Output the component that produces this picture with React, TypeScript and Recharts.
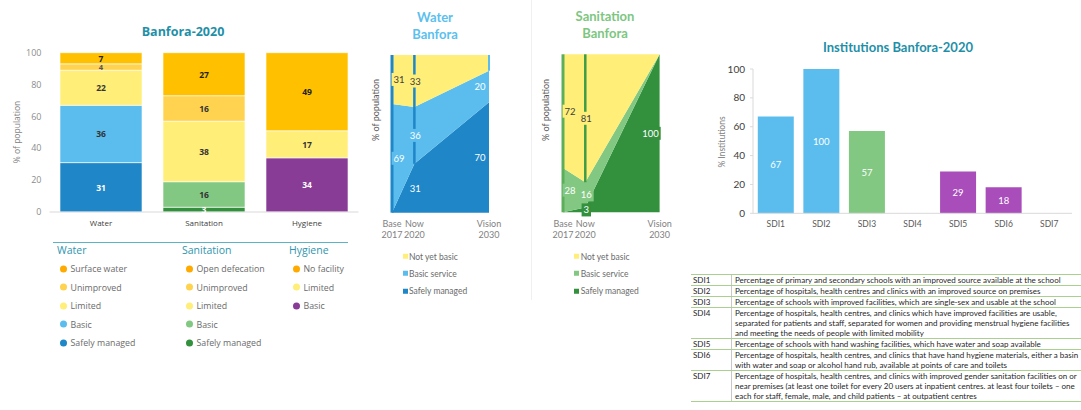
import React from 'react'
import {
  BarChart,
  Bar,
  XAxis,
  YAxis,
  Cell,
  LabelList,
  ComposedChart,
  Area,
  Line,
  ReferenceLine,
} from 'recharts'

const SEGOE = '"Open Sans", "Noto Sans", sans-serif'
const CALIBRI = 'Lato, "Liberation Sans", sans-serif'

// Banfora-2020 service ladders (% of population)
const ladderCategories = ['Water', 'Sanitation', 'Hygiene']
const safelyManaged = [31, 3, 0]
const basicLevel = [36, 16, 34]
const limitedLevel = [22, 38, 17]
const unimprovedLevel = [4, 16, 0]
const noServiceLevel = [7, 27, 49]
const percentTicks = [0, 20, 40, 60, 80, 100]

// progress base -> now -> vision
const years = [2017, 2020, 2030]
const yearNames = ['Base', 'Now', 'Vision']
const waterSafely = [0, 31, 70]
const waterBasic = [69, 36, 20]
const waterNotYet = [31, 33, 10]
const sanSafely = [0, 3, 100]
const sanBasic = [28, 16, 0]
const sanNotYet = [72, 81, 0]

// institutions
const sdiNames = ['SDI1', 'SDI2', 'SDI3', 'SDI4', 'SDI5', 'SDI6', 'SDI7']
const sdiValues = [67, 100, 57, 0, 29, 18, 0]

const sdiDescriptions = [
  ['Percentage of primary and secondary schools with an improved source available at the school'],
  ['Percentage of hospitals, health centres and clinics with an improved source on premises'],
  ['Percentage of schools with improved facilities, which are single-sex and usable at the school'],
  [
    'Percentage of hospitals, health centres, and clinics which have improved facilities are usable,',
    'separated for patients and staff, separated for women and providing menstrual hygiene facilities',
    'and meeting the needs of people with limited mobility',
  ],
  ['Percentage of schools with hand washing facilities, which have water and soap available'],
  [
    'Percentage of hospitals, health centres, and clinics that have hand hygiene materials, either a basin',
    'with water and soap or alcohol hand rub, available at points of care and toilets',
  ],
  [
    'Percentage of hospitals, health centres, and clinics with improved gender sanitation facilities on or',
    'near premises (at least one toilet for every 20 users at inpatient centres. at least four toilets \u2013 one',
    'each for staff, female, male, and child patients \u2013 at outpatient centres',
  ],
]

const waterLegend = ['Surface water', 'Unimproved', 'Limited', 'Basic', 'Safely managed']
const sanitationLegend = ['Open defecation', 'Unimproved', 'Limited', 'Basic', 'Safely managed']
const hygieneLegend = ['No facility', 'Limited', 'Basic']
const progressLegend = ['Not yet basic', 'Basic service', 'Safely managed']

// colours
const NONE = '#FFC000'
const NONE_DOT = '#FFAA00'
const UNIMP = '#FFD34F'
const LIMITED = '#FFEE78'
const W_BASIC = '#5BBDEE'
const W_SAFE = '#1F86C8'
const S_BASIC = '#82C882'
const S_SAFE = '#33903D'
const H_BASIC = '#883C96'
const SDI_PURPLE = '#A94DBB'
const TEAL = '#1F8FA8'
const DARK = '#333333'

const SDI_COLORS = [W_BASIC, W_BASIC, S_BASIC, S_BASIC, SDI_PURPLE, SDI_PURPLE, SDI_PURPLE]

const ladderData = ladderCategories.map((name, i) => ({
  name,
  safely: safelyManaged[i],
  basic: basicLevel[i],
  limited: limitedLevel[i],
  unimproved: unimprovedLevel[i],
  none: noServiceLevel[i],
}))

const ladderSeries = [
  { key: 'safely', fills: [W_SAFE, S_SAFE, 'none'], text: ['#fff', '#fff', '#fff'], size: [8.5, 8.5, 8.5] },
  { key: 'basic', fills: [W_BASIC, S_BASIC, H_BASIC], text: [DARK, DARK, '#fff'], size: [8.5, 8.5, 8.5] },
  { key: 'limited', fills: [LIMITED, LIMITED, LIMITED], text: [DARK, DARK, DARK], size: [8.5, 8.5, 8.5] },
  { key: 'unimproved', fills: [UNIMP, UNIMP, UNIMP], text: ['#555', DARK, DARK], size: [7.5, 8.5, 8.5] },
  { key: 'none', fills: [NONE, NONE, NONE], text: ['#222', '#222', '#222'], size: [8.5, 8.5, 8.5] },
]

const sdiData = sdiNames.map((name, i) => ({ name, value: sdiValues[i] }))

function centerLabel(colors: string[], sizes: number[], weight: number, family: string) {
  return (props: any) => {
    const { x, y, width, height, value, index } = props
    if (!value) return null
    return (
      <text
        x={Number(x) + Number(width) / 2}
        y={Number(y) + Number(height) / 2}
        textAnchor="middle"
        dominantBaseline="central"
        fontSize={sizes[index]}
        fontWeight={weight}
        fontFamily={family}
        fill={colors[index]}
      >
        {value}
      </text>
    )
  }
}

// horizontal nudge of the labels at base / now / vision
const LABEL_DX = [7, 1, -9]

function areaLabel(box: string, color: string, skipLast: boolean) {
  return (props: any) => {
    const { x, y, value, index } = props
    if (!value || (skipLast && index === years.length - 1)) return null
    const cx = Number(x) + LABEL_DX[index]
    const w = String(value).length * 5.4 + 4
    return (
      <g>
        <rect x={cx - w / 2} y={Number(y) - 6.5} width={w} height={13} fill={box} />
        <text
          x={cx}
          y={Number(y)}
          textAnchor="middle"
          dominantBaseline="central"
          fontSize={9.5}
          fontFamily={CALIBRI}
          fill={color}
        >
          {value}
        </text>
      </g>
    )
  }
}

const YearTick = (props: any) => {
  const { x, y, payload } = props
  const i = years.indexOf(payload.value)
  return (
    <text x={x} y={y} textAnchor="middle" fontSize={9} fill="#7f7f7f" fontFamily={CALIBRI}>
      <tspan x={x} dy="0.71em">
        {yearNames[i]}
      </tspan>
      <tspan x={x} dy="1.22em">
        {payload.value}
      </tspan>
    </text>
  )
}

interface ProgressProps {
  left: number
  margin: { top: number; right: number; left: number; bottom: number }
  safely: number[]
  basic: number[]
  notYet: number[]
  colors: string[]
  textColors: string[]
  edgeColor: string
  nowColor: string
  nowFrom: number
  visionColor?: string
  visionFrom?: number
}

function ProgressChart(p: ProgressProps) {
  const data = years.map((year, i) => ({
    year,
    safely: p.safely[i],
    basic: p.basic[i],
    notYet: p.notYet[i],
  }))
  return (
    <div style={{ position: 'absolute', left: p.left, top: 0 }}>
      <ComposedChart width={150} height={245} data={data} margin={p.margin}>
        <XAxis
          type="number"
          dataKey="year"
          domain={[2017, 2030]}
          ticks={years}
          interval={0}
          height={30}
          axisLine={false}
          tickLine={false}
          tick={<YearTick />}
        />
        <YAxis hide domain={[0, 100]} />
        <Area type="linear" dataKey="safely" stackId="p" stroke="none" fill={p.colors[0]} fillOpacity={1} isAnimationActive={false} />
        <Area type="linear" dataKey="basic" stackId="p" stroke="none" fill={p.colors[1]} fillOpacity={1} isAnimationActive={false} />
        <Area type="linear" dataKey="notYet" stackId="p" stroke="none" fill={p.colors[2]} fillOpacity={1} isAnimationActive={false} />
        <ReferenceLine x={2017} stroke={p.edgeColor} strokeWidth={3} />
        <ReferenceLine
          segment={[
            { x: 2020, y: p.nowFrom },
            { x: 2020, y: 100 },
          ]}
          stroke={p.nowColor}
          strokeWidth={2.5}
        />
        {p.visionColor && (
          <ReferenceLine
            segment={[
              { x: 2030, y: p.visionFrom },
              { x: 2030, y: 100 },
            ]}
            stroke={p.visionColor}
            strokeWidth={2}
          />
        )}
        <Line dataKey={(d: any) => d.safely / 2} stroke="none" dot={false} activeDot={false} legendType="none" isAnimationActive={false}>
          <LabelList dataKey="safely" content={areaLabel(p.colors[0], p.textColors[0], false)} />
        </Line>
        <Line dataKey={(d: any) => d.safely + d.basic / 2} stroke="none" dot={false} activeDot={false} legendType="none" isAnimationActive={false}>
          <LabelList dataKey="basic" content={areaLabel(p.colors[1], p.textColors[1], false)} />
        </Line>
        <Line dataKey={(d: any) => d.safely + d.basic + d.notYet / 2} stroke="none" dot={false} activeDot={false} legendType="none" isAnimationActive={false}>
          <LabelList dataKey="notYet" content={areaLabel(p.colors[2], p.textColors[2], true)} />
        </Line>
      </ComposedChart>
    </div>
  )
}

function Txt({ x, y, rotate, style, children }: any) {
  return (
    <div
      style={{
        position: 'absolute',
        left: x,
        top: y,
        transform: `translate(-50%, -50%)${rotate ? ' rotate(-90deg)' : ''}`,
        whiteSpace: 'nowrap',
        lineHeight: 1,
        ...style,
      }}
    >
      {children}
    </div>
  )
}

function LegendRow({ x, y, color, label, square, family, size }: any) {
  return (
    <div
      style={{
        position: 'absolute',
        left: x - (square ? 2.5 : 3.5),
        top: y,
        transform: 'translateY(-50%)',
        display: 'flex',
        alignItems: 'center',
        whiteSpace: 'nowrap',
        fontFamily: family,
        fontSize: size,
        color: '#6b6b6b',
        lineHeight: 1,
      }}
    >
      <span
        style={{
          display: 'inline-block',
          width: square ? 5 : 7,
          height: square ? 5 : 7,
          borderRadius: square ? 0 : '50%',
          background: color,
          marginRight: square ? 1.5 : 4,
        }}
      />
      {label}
    </div>
  )
}

const LEGEND_ROWS = [269, 287.5, 306, 324.5, 343]
const PROGRESS_ROWS = [256.7, 273.7, 291]
const HEADER_STYLE = { transform: 'translateY(-50%)', fontFamily: SEGOE, fontSize: 10.5, color: '#2F95AE' }

export default function App() {
  return (
    <div
      style={{
        position: 'absolute',
        left: 0,
        top: 0,
        width: 1081,
        height: 410,
        background: '#fff',
        overflow: 'hidden',
      }}
    >
      {/* ladder chart */}
      <div style={{ position: 'absolute', left: 0, top: 0 }}>
        <BarChart
          width={370}
          height={240}
          data={ladderData}
          margin={{ top: 52.7, right: 11.5, left: 19.5, bottom: 8 }}
          barCategoryGap="10.2%"
        >
          <XAxis
            dataKey="name"
            height={20}
            interval={0}
            axisLine={{ stroke: '#d9d9d9' }}
            tickLine={false}
            tick={{ fontSize: 8, fill: '#404040', fontFamily: SEGOE }}
          />
          <YAxis
            width={30}
            domain={[0, 100]}
            ticks={percentTicks}
            axisLine={false}
            tickLine={false}
            tick={{ fontSize: 9, fill: '#8c8c8c', fontFamily: SEGOE }}
          />
          {ladderSeries.map((s) => (
            <Bar key={s.key} dataKey={s.key} stackId="l" stroke="#fff" strokeWidth={0.6} isAnimationActive={false}>
              {ladderData.map((_, i) => (
                <Cell key={i} fill={s.fills[i]} />
              ))}
              <LabelList dataKey={s.key} content={centerLabel(s.text, s.size, 700, SEGOE)} />
            </Bar>
          ))}
        </BarChart>
      </div>
      <Txt x={183} y={32} style={{ fontFamily: SEGOE, fontWeight: 700, fontSize: 12.5, color: TEAL }}>
        Banfora-2020
      </Txt>
      <Txt x={17} y={132} rotate style={{ fontFamily: SEGOE, fontSize: 8.5, color: '#7f7f7f' }}>
        % of population
      </Txt>

      {/* ladder legend */}
      <div style={{ position: 'absolute', left: 53, top: 242, width: 295, height: 1, background: '#5AB4C5' }} />
      <Txt x={57} y={250} style={HEADER_STYLE}>Water</Txt>
      <Txt x={182} y={250} style={HEADER_STYLE}>Sanitation</Txt>
      <Txt x={289} y={250} style={HEADER_STYLE}>Hygiene</Txt>
      {waterLegend.map((label, i) => (
        <LegendRow key={label} x={63} y={LEGEND_ROWS[i]} label={label} family={SEGOE} size={8.8}
          color={[NONE_DOT, UNIMP, LIMITED, W_BASIC, W_SAFE][i]} />
      ))}
      {sanitationLegend.map((label, i) => (
        <LegendRow key={label} x={189} y={LEGEND_ROWS[i]} label={label} family={SEGOE} size={8.8}
          color={[NONE_DOT, UNIMP, LIMITED, S_BASIC, S_SAFE][i]} />
      ))}
      {hygieneLegend.map((label, i) => (
        <LegendRow key={label} x={296} y={LEGEND_ROWS[i]} label={label} family={SEGOE} size={8.8}
          color={[NONE_DOT, LIMITED, H_BASIC][i]} />
      ))}

      {/* water progress */}
      <ProgressChart
        left={360}
        margin={{ top: 55, right: 21, left: 32, bottom: 2.3 }}
        safely={waterSafely}
        basic={waterBasic}
        notYet={waterNotYet}
        colors={[W_SAFE, W_BASIC, LIMITED]}
        textColors={['#fff', '#fff', '#404040']}
        edgeColor={W_SAFE}
        nowColor={W_SAFE}
        nowFrom={waterSafely[1]}
        visionColor={W_BASIC}
        visionFrom={waterSafely[2] + waterBasic[2]}
      />
      <Txt x={435} y={17} style={{ fontFamily: CALIBRI, fontWeight: 700, fontSize: 13, color: '#5BC0EE' }}>Water</Txt>
      <Txt x={435} y={34} style={{ fontFamily: CALIBRI, fontWeight: 700, fontSize: 13, color: '#5BC0EE' }}>Banfora</Txt>
      <Txt x={375} y={110} rotate style={{ fontFamily: CALIBRI, fontSize: 9, color: '#595959' }}>% of population</Txt>
      {progressLegend.map((label, i) => (
        <LegendRow key={label} x={405} y={PROGRESS_ROWS[i]} label={label} family={CALIBRI} size={8.5} square
          color={[LIMITED, W_BASIC, W_SAFE][i]} />
      ))}

      <div style={{ position: 'absolute', left: 531, top: 0, width: 1, height: 300, background: '#f0f0f0' }} />

      {/* sanitation progress */}
      <ProgressChart
        left={530.7}
        margin={{ top: 54.3, right: 21.4, left: 32, bottom: 2.7 }}
        safely={sanSafely}
        basic={sanBasic}
        notYet={sanNotYet}
        colors={[S_SAFE, S_BASIC, LIMITED]}
        textColors={['#fff', '#fff', '#404040']}
        edgeColor="#5CAE5A"
        nowColor="#3E9B46"
        nowFrom={sanSafely[1] + sanBasic[1]}
      />
      <Txt x={605} y={16} style={{ fontFamily: CALIBRI, fontWeight: 700, fontSize: 13, color: '#7DC680' }}>Sanitation</Txt>
      <Txt x={605} y={33} style={{ fontFamily: CALIBRI, fontWeight: 700, fontSize: 13, color: '#7DC680' }}>Banfora</Txt>
      <Txt x={545} y={110} rotate style={{ fontFamily: CALIBRI, fontSize: 9, color: '#595959' }}>% of population</Txt>
      {progressLegend.map((label, i) => (
        <LegendRow key={label} x={576.7} y={PROGRESS_ROWS[i]} label={label} family={CALIBRI} size={8.5} square
          color={[LIMITED, S_BASIC, S_SAFE][i]} />
      ))}

      {/* institutions */}
      <div style={{ position: 'absolute', left: 690, top: 0 }}>
        <BarChart
          width={391}
          height={240}
          data={sdiData}
          margin={{ top: 69, right: 9, left: 0, bottom: 6.7 }}
          barCategoryGap="10.5%"
        >
          <XAxis
            dataKey="name"
            height={20}
            interval={0}
            axisLine={{ stroke: '#d9d9d9' }}
            tickLine={false}
            tick={{ fontSize: 8.5, fill: '#595959', fontFamily: CALIBRI }}
          />
          <YAxis
            width={63}
            domain={[0, 100]}
            ticks={percentTicks}
            axisLine={{ stroke: '#d9d9d9' }}
            tickLine={{ stroke: '#d9d9d9' }}
            tickSize={3}
            tickMargin={5}
            tick={{ fontSize: 10, fill: '#404040', fontFamily: CALIBRI }}
          />
          <Bar dataKey="value" isAnimationActive={false}>
            {sdiData.map((_, i) => (
              <Cell key={i} fill={SDI_COLORS[i]} />
            ))}
            <LabelList
              dataKey="value"
              content={centerLabel(SDI_COLORS.map(() => '#fff'), SDI_COLORS.map(() => 9.5), 400, CALIBRI)}
            />
          </Bar>
        </BarChart>
      </div>
      <Txt x={898} y={47} style={{ fontFamily: CALIBRI, fontWeight: 700, fontSize: 13, color: TEAL }}>
        Institutions Banfora-2020
      </Txt>
      <Txt x={722} y={142} rotate style={{ fontFamily: CALIBRI, fontSize: 8.5, color: '#7f7f7f' }}>
        % Institutions
      </Txt>

      {/* SDI table */}
      <div
        style={{
          position: 'absolute',
          left: 691,
          top: 274,
          width: 390,
          overflow: 'hidden',
          fontFamily: CALIBRI,
          fontSize: 8,
          color: '#1f1f1f',
        }}
      >
        {sdiNames.map((name, i) => (
          <div
            key={name}
            style={{
              display: 'flex',
              borderTop: '1px solid #A9D08E',
              borderBottom: i === sdiNames.length - 1 ? '1px solid #A9D08E' : undefined,
            }}
          >
            <div style={{ width: 38, flex: 'none', borderRight: '1px solid #c8c8c8', paddingLeft: 2, lineHeight: '10px' }}>
              {name}
            </div>
            <div style={{ paddingLeft: 3, lineHeight: '10px', whiteSpace: 'nowrap' }}>
              {sdiDescriptions[i].map((line) => (
                <div key={line}>{line}</div>
              ))}
            </div>
          </div>
        ))}
      </div>
    </div>
  )
}
